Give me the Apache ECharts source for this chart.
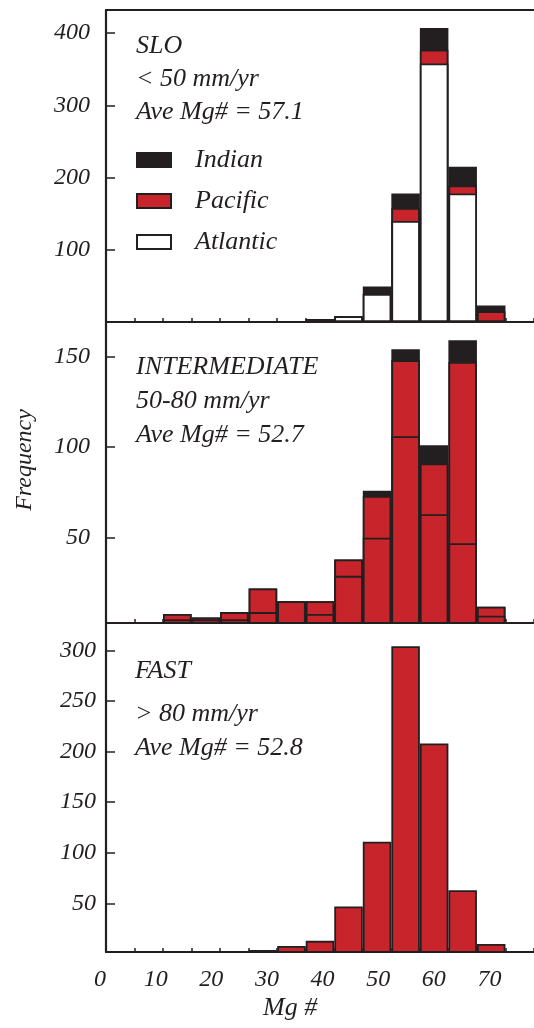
<!DOCTYPE html>
<html>
<head>
<meta charset="utf-8">
<script src="https://cdn.jsdelivr.net/npm/echarts@6/dist/echarts.min.js"></script>
<style>
  html, body { margin: 0; padding: 0; background: #ffffff; }
  #chart { width: 534px; height: 1028px; }
</style>
</head>
<body>
<div id="chart"></div>
<script>
// ---------- data ----------
const binWidth = 5;

// SLO panel (< 50 mm/yr), bins start at these Mg# values
const slowBins     = [35, 40, 45, 50, 55, 60, 65];
const slowAtlantic = [4, 8, 39, 140, 358, 178, 0];
const slowPacific  = [0, 0, 0, 18, 19, 11, 15];
const slowIndian   = [0, 0, 10, 20, 30, 26, 8];

// INTERMEDIATE panel (50-80 mm/yr)
const midBins   = [10, 15, 20, 25, 30, 35, 40, 45, 50, 55, 60, 65];
const midLower  = [5, 5, 5, 9, 15, 8, 29, 50, 106, 63, 47, 7];
const midUpper  = [3, 1, 4, 13, 0, 7, 9, 23, 42, 28, 100, 5];
const midIndian = [0, 0, 0, 0, 0, 0, 0, 3, 6, 10, 12, 0];

// FAST panel (> 80 mm/yr)
const fastBins   = [25, 30, 35, 40, 45, 50, 55, 60, 65];
const fastValues = [4, 8, 13, 47, 111, 304, 208, 63, 10];

// tick labels
const slowTicks  = [100, 200, 300, 400];
const midTicks   = [50, 100, 150];
const fastTicks  = [50, 100, 150, 200, 250, 300];
const xTickLabels = [0, 10, 20, 30, 40, 50, 60, 70];

const slowText = ['SLO', '< 50 mm/yr', 'Ave Mg# = 57.1'];
const midText  = ['INTERMEDIATE', '50-80 mm/yr', 'Ave Mg# = 52.7'];
const fastText = ['FAST', '> 80 mm/yr', 'Ave Mg# = 52.8'];

// ---------- styling ----------
const DARK = '#231f20';
const RED = '#c8242b';
const FONT = "'Liberation Serif', 'DejaVu Serif', serif";

// cumulative sums of stacked layers (bottom layer first)
function cumulative(layers) {
  const out = [];
  let run = layers[0].map(() => 0);
  layers.forEach(l => { run = run.map((v, i) => v + l[i]); out.push(run.slice()); });
  return out;
}

function barSeries(name, bins, vals, color, axisIndex) {
  return {
    type: 'bar',
    name: name,
    xAxisIndex: axisIndex,
    yAxisIndex: axisIndex,
    barWidth: '100%',
    barGap: '-100%',
    data: bins.map((b, i) => [b + binWidth / 2, vals[i]]),
    itemStyle: { color: color, borderColor: DARK, borderWidth: 1.8 },
    emphasis: { disabled: true },
    silent: true
  };
}

function dataXAxis(gridIndex) {
  return {
    type: 'value', gridIndex: gridIndex, min: 0, max: 75, interval: 5,
    axisLine: { show: true, onZero: false, lineStyle: { color: DARK, width: 2.2 } },
    axisTick: { show: true, inside: true, length: 4, lineStyle: { color: DARK, width: 1.5 } },
    axisLabel: { show: false },
    splitLine: { show: false }
  };
}

function dataYAxis(gridIndex, min, max, ticks, margin) {
  return {
    type: 'value', gridIndex: gridIndex, min: min, max: max,
    axisLine: { show: true, lineStyle: { color: DARK, width: 2.2 } },
    axisTick: { show: true, inside: true, length: 9, customValues: ticks,
                lineStyle: { color: DARK, width: 1.5 } },
    axisLabel: { show: true, customValues: ticks, margin: margin, color: DARK,
                 fontFamily: FONT, fontStyle: 'italic', fontSize: 24 },
    splitLine: { show: false }
  };
}

const titleStyle = {
  fontFamily: FONT, fontStyle: 'italic', fontWeight: 'normal',
  fontSize: 26, color: DARK
};

const slowCum = cumulative([slowAtlantic, slowPacific, slowIndian]);
const midCum  = cumulative([midLower, midUpper, midIndian]);

const option = {
  animation: false,
  backgroundColor: '#ffffff',
  grid: [
    { left: 106, right: 0, top: 10, height: 312 },
    { left: 106, right: 0, top: 322, height: 301 },
    { left: 106, right: 0, top: 623, height: 329 },
    { left: 100, right: 0, top: 952, height: 1 }
  ],
  xAxis: [
    dataXAxis(0),
    dataXAxis(1),
    dataXAxis(2),
    { type: 'value', gridIndex: 0, position: 'top', min: 0, max: 75,
      axisLine: { show: true, onZero: false, lineStyle: { color: DARK, width: 2.2 } },
      axisTick: { show: false }, axisLabel: { show: false }, splitLine: { show: false } },
    { type: 'value', gridIndex: 3, min: xTickLabels[0], max: 78, interval: 10,
      axisLine: { show: false }, axisTick: { show: false }, splitLine: { show: false },
      axisLabel: { show: true, margin: 15, color: DARK, showMaxLabel: false,
                   fontFamily: FONT, fontStyle: 'italic', fontSize: 24 } }
  ],
  yAxis: [
    dataYAxis(0, 0, 432, slowTicks, 16),
    dataYAxis(1, 3, 169, midTicks, 16),
    dataYAxis(2, 2, 327, fastTicks, 10),
    { type: 'value', gridIndex: 3, min: 0, max: 1, show: false }
  ],
  legend: {
    data: ['Indian', 'Pacific', 'Atlantic'],
    orient: 'vertical',
    left: 136, top: 147,
    padding: 0,
    itemWidth: 34, itemHeight: 14, itemGap: 15,
    icon: 'rect',
    selectedMode: false,
    textStyle: { fontFamily: FONT, fontStyle: 'italic', fontSize: 26, lineHeight: 26,
                 color: DARK, padding: [0, 0, 0, 19] }
  },
  title: [
    { text: slowText.join('\n'), left: 136, top: 30, padding: 0,
      textStyle: Object.assign({ lineHeight: 33 }, titleStyle) },
    { text: midText.join('\n'), left: 136, top: 350, padding: 0,
      textStyle: Object.assign({ lineHeight: 34 }, titleStyle) },
    { text: fastText[0], left: 135, top: 654, padding: 0,
      textStyle: Object.assign({ lineHeight: 34 }, titleStyle) },
    { text: fastText.slice(1).join('\n'), left: 135, top: 697, padding: 0,
      textStyle: Object.assign({ lineHeight: 34 }, titleStyle) },
    { text: 'Mg #', left: 263, top: 995, padding: 0,
      textStyle: Object.assign({ lineHeight: 26 }, titleStyle) }
  ],
  graphic: [
    { type: 'text', x: 25, y: 460, rotation: Math.PI / 2, silent: true,
      style: { text: 'Frequency', fill: DARK, align: 'center', verticalAlign: 'middle',
               font: "italic 24px 'Liberation Serif', 'DejaVu Serif', serif" } }
  ],
  series: [
    // top panel: tallest (cumulative) layer drawn first, lower layers over it
    barSeries('Indian', slowBins, slowCum[2], DARK, 0),
    barSeries('Pacific', slowBins, slowCum[1], RED, 0),
    barSeries('Atlantic', slowBins, slowCum[0], '#ffffff', 0),
    // middle panel
    barSeries('Indian (intermediate)', midBins, midCum[2], DARK, 1),
    barSeries('Pacific group B', midBins, midCum[1], RED, 1),
    barSeries('Pacific group A', midBins, midCum[0], RED, 1),
    // bottom panel
    barSeries('Fast', fastBins, fastValues, RED, 2)
  ]
};

const chart = echarts.init(document.getElementById('chart'), null, { renderer: 'canvas' });
chart.setOption(option);
</script>
</body>
</html>
